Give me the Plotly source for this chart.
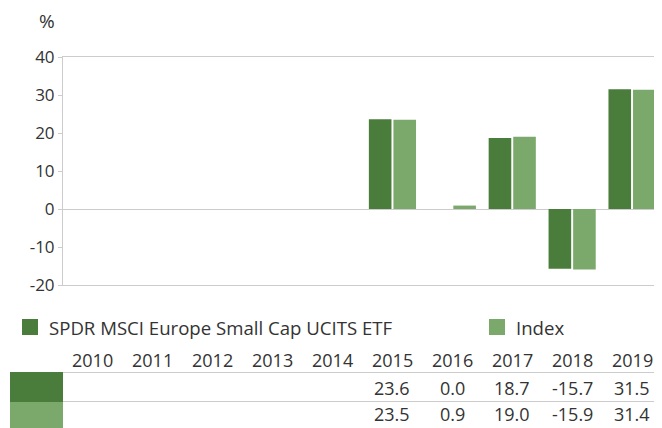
import plotly.graph_objects as go

years = ["2010", "2011", "2012", "2013", "2014", "2015", "2016", "2017", "2018", "2019"]
etf_name = "SPDR MSCI Europe Small Cap UCITS ETF"
index_name = "Index"
etf_values = [None, None, None, None, None, 23.6, 0.0, 18.7, -15.7, 31.5]
index_values = [None, None, None, None, None, 23.5, 0.9, 19.0, -15.9, 31.4]
y_ticks = [-20, -10, 0, 10, 20, 30, 40]
y_tick_text = ["-20", "-10", "0", "10", "20", "30", "40"]

DARK = "#4a7c3b"
LIGHT = "#7aa96b"
GRID = "#cccccc"
TEXT = "#333333"
FONT = "Open Sans"
FS = 18

# page body has an 8px margin; lay out in window pixels and shift
OFF = 8
WIN_W, WIN_H = 662, 428
W, H = WIN_W - OFF, WIN_H - OFF
PL, PR, PT, PB = 63, 662, 57, 285   # plot area in window pixels
L, T = PL - OFF, PT - OFF
R = (WIN_W - PR)
B = (WIN_H - PB)
PW, PH = W - L - R, H - T - B

def px_x(x):
    return (x - OFF - L) / PW

def px_y(y):
    return (H - B - (y - OFF)) / PH

fig = go.Figure()
fig.add_bar(x=years, y=etf_values, name=etf_name, marker=dict(color=DARK, line=dict(width=0)))
fig.add_bar(x=years, y=index_values, name=index_name, marker=dict(color=LIGHT, line=dict(width=0)))

annotations = []
shapes = []

# % label
annotations.append(dict(text="%", xref="paper", yref="paper", x=px_x(47), y=px_y(21),
                        showarrow=False, font=dict(size=19, color=TEXT, family=FONT),
                        xanchor="center", yanchor="middle"))

# legend
for sx, col, label in [(22, DARK, etf_name), (489, LIGHT, index_name)]:
    shapes.append(dict(type="rect", xref="paper", yref="paper",
                       x0=px_x(sx), x1=px_x(sx + 16), y0=px_y(335), y1=px_y(319),
                       fillcolor=col, line=dict(width=0)))
    annotations.append(dict(text=label, xref="paper", yref="paper", x=px_x(sx + 25), y=px_y(327),
                            showarrow=False, font=dict(size=18.6, color=TEXT, family=FONT),
                            xanchor="left", yanchor="middle"))

# table
for i, yr in enumerate(years):
    annotations.append(dict(text=yr, xref="x", yref="paper", x=i, y=px_y(360),
                            showarrow=False, font=dict(size=FS, color=TEXT, family=FONT),
                            xanchor="center", yanchor="middle"))
    for vals, ypix in [(etf_values, 388), (index_values, 414)]:
        v = vals[i]
        if v is not None:
            annotations.append(dict(text=f"{v:.1f}", xref="x", yref="paper", x=i, y=px_y(ypix),
                                    showarrow=False, font=dict(size=FS, color=TEXT, family=FONT),
                                    xanchor="center", yanchor="middle"))

# table swatches and lines
shapes.append(dict(type="rect", xref="paper", yref="paper", x0=px_x(10), x1=px_x(63),
                   y0=px_y(402), y1=px_y(372), fillcolor=DARK, line=dict(width=0)))
shapes.append(dict(type="rect", xref="paper", yref="paper", x0=px_x(10), x1=px_x(63),
                   y0=px_y(428), y1=px_y(402), fillcolor=LIGHT, line=dict(width=0)))
for ly in [372.5, 401.5]:
    shapes.append(dict(type="line", xref="paper", yref="paper", x0=px_x(63), x1=1,
                       y0=px_y(ly), y1=px_y(ly), line=dict(color=GRID, width=1)))

fig.update_layout(
    width=W, height=H,
    margin=dict(l=L, r=R, t=T, b=B, pad=0),
    paper_bgcolor="white", plot_bgcolor="white",
    barmode="group", bargap=0.18, bargroupgap=0.08,
    showlegend=False,
    font=dict(family=FONT, color=TEXT, size=14),
    annotations=annotations, shapes=shapes,
    xaxis=dict(type="category", categoryorder="array", categoryarray=years,
               range=[-0.5, len(years) - 0.5], autorange=False,
               showticklabels=False, showgrid=False, zeroline=False,
               showline=True, mirror=True, linecolor=GRID, linewidth=1, ticks=""),
    yaxis=dict(range=[-20, 40], tickvals=y_ticks, ticktext=y_tick_text, showgrid=False,
               zeroline=True, zerolinecolor=GRID, zerolinewidth=1,
               showline=True, linecolor=GRID, linewidth=1,
               ticks="outside", ticklen=4, tickcolor=GRID,
               tickfont=dict(size=17, color=TEXT, family=FONT)),
)

fig.write_html("out.html")
